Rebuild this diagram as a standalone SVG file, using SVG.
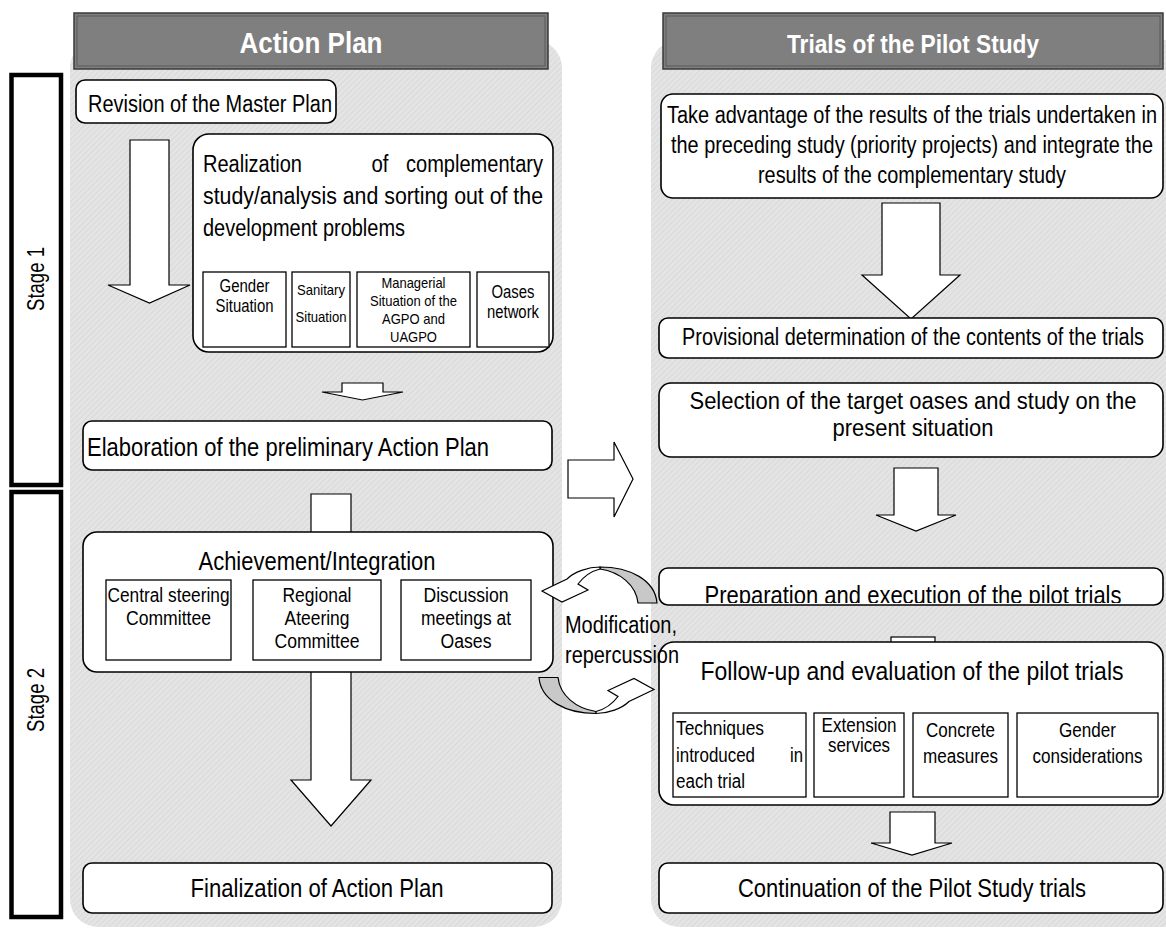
<svg xmlns="http://www.w3.org/2000/svg" width="1166" height="931" viewBox="0 0 1166 931">
<style>
text{font-family:"Liberation Sans",Arial,sans-serif;fill:#000}
.hd{font-weight:bold;fill:#fff}
.box{fill:#fff;stroke:#000;stroke-width:1.6}
.sub{fill:#fff;stroke:#000;stroke-width:1.3}
.arr{fill:#fff;stroke:#000;stroke-width:1.2;stroke-linejoin:miter}
.stage{fill:#fff;stroke:#000;stroke-width:4.5}
.t20{font-size:23px}.t22{font-size:25px}.t23{font-size:26px}.t18{font-size:20px}.t17{font-size:19.5px}.t15{font-size:17.5px}.t13{font-size:15px}
.m{text-anchor:middle}.e{text-anchor:end}
</style>
<defs>
<pattern id="hatch" width="4" height="4" patternUnits="userSpaceOnUse" patternTransform="rotate(45)">
<rect width="4" height="4" fill="#e4e4e4"/><rect width="1" height="4" fill="#d9d9d9"/>
</pattern>
<clipPath id="cpPrep"><rect x="659" y="568" width="504" height="35"/></clipPath>
<clipPath id="cpMan"><rect x="357" y="272" width="113" height="74"/></clipPath>
</defs>
<rect width="1166" height="931" fill="#fff"/>
<g id="panels">
<rect x="70" y="40" width="492" height="887" rx="28" fill="url(#hatch)"/>
<rect x="651" y="40" width="540" height="887" rx="28" fill="url(#hatch)"/>
</g>
<g id="stage1"><rect class="stage" x="11.5" y="75" width="49.5" height="410"/><text font-size="23" class="m" transform="translate(44,279) rotate(-90)" textLength="64" lengthAdjust="spacingAndGlyphs">Stage 1</text></g>
<g id="stage2"><rect class="stage" x="11.5" y="492" width="49.5" height="425"/><text font-size="23" class="m" transform="translate(44,700) rotate(-90)" textLength="64" lengthAdjust="spacingAndGlyphs">Stage 2</text></g>
<g id="header-action-plan">
<rect x="74" y="13" width="474" height="56" fill="#7f7f7f" stroke="#3a3a3a" stroke-width="1.5"/>
<rect x="77" y="16" width="468" height="50" fill="none" stroke="#5a5a5a" stroke-width="1"/>
<text class="hd m" x="311" y="53" font-size="30" textLength="143" lengthAdjust="spacingAndGlyphs">Action Plan</text>
</g>
<g id="header-trials">
<rect x="663" y="13" width="500" height="56" fill="#7f7f7f" stroke="#3a3a3a" stroke-width="1.5"/>
<rect x="666" y="16" width="494" height="50" fill="none" stroke="#5a5a5a" stroke-width="1"/>
<text class="hd m" x="913" y="53" font-size="26" textLength="252" lengthAdjust="spacingAndGlyphs">Trials of the Pilot Study</text>
</g>
<g id="connectors">
<polygon class="arr" points="130,140 169,140 169,285 190,285 149.5,303 108,285 130,285"/>
<polygon class="arr" points="342,383 383,383 383,392 403,392 362.5,400 322,392 342,392"/>
<polygon class="arr" points="311,494 351,494 351,780 371,780 331,826 291,780 311,780"/>
<polygon class="arr" points="568,460 614,460 614,442 633,479 614,517 614,498 568,498"/>
<polygon class="arr" points="882,203 940,203 940,275 960,275 911,319 862,275 882,275"/>
<polygon class="arr" points="894,468 938,468 938,515 956,515 916,531 876,515 894,515"/>
<rect class="arr" x="891" y="637" width="44" height="30"/>
<polygon class="arr" points="890,812 935,812 935,843 952,843 912,855 871,843 890,843"/>
</g>
<g id="revision"><rect class="box" x="76" y="80" width="260" height="43" rx="9"/><text class="t20" x="88" y="112" textLength="244" lengthAdjust="spacingAndGlyphs">Revision of the Master Plan</text></g>
<g id="realization">
<rect class="box" x="193" y="134" width="360" height="218" rx="16"/>
<text class="t20" x="203" y="172" textLength="99" lengthAdjust="spacingAndGlyphs">Realization</text><text class="t20 m" x="380" y="172" textLength="17" lengthAdjust="spacingAndGlyphs">of</text><text class="t20 e" x="543" y="172" textLength="137" lengthAdjust="spacingAndGlyphs">complementary</text>
<text class="t20" x="203" y="204" textLength="340" lengthAdjust="spacingAndGlyphs">study/analysis and sorting out of the</text>
<text class="t20" x="203" y="236" textLength="202" lengthAdjust="spacingAndGlyphs">development problems</text>
<g id="gender-situation"><rect class="sub" x="203" y="272" width="83" height="75"/><text class="t15 m" x="244.5" y="292" textLength="50" lengthAdjust="spacingAndGlyphs">Gender</text><text class="t15 m" x="244.5" y="312" textLength="58" lengthAdjust="spacingAndGlyphs">Situation</text></g>
<g id="sanitary-situation"><rect class="sub" x="292" y="272" width="58" height="75"/><text class="t13 m" x="321" y="295" textLength="48" lengthAdjust="spacingAndGlyphs">Sanitary</text><text class="t13 m" x="321" y="322" textLength="51" lengthAdjust="spacingAndGlyphs">Situation</text></g>
<g id="managerial-situation"><rect class="sub" x="357" y="272" width="113" height="75"/><g clip-path="url(#cpMan)"><text class="t13 m" x="413.5" y="288" textLength="64" lengthAdjust="spacingAndGlyphs">Managerial</text><text class="t13 m" x="413.5" y="306" textLength="87" lengthAdjust="spacingAndGlyphs">Situation of the</text><text class="t13 m" x="413.5" y="324" textLength="63" lengthAdjust="spacingAndGlyphs">AGPO and</text><text class="t13 m" x="413.5" y="342" textLength="47" lengthAdjust="spacingAndGlyphs">UAGPO</text></g></g>
<g id="oases-network"><rect class="sub" x="477" y="272" width="72" height="75"/><text class="t15 m" x="513" y="298" textLength="43" lengthAdjust="spacingAndGlyphs">Oases</text><text class="t15 m" x="513" y="318" textLength="52" lengthAdjust="spacingAndGlyphs">network</text></g>
</g>
<g id="elaboration"><rect class="box" x="83" y="421" width="469" height="49" rx="9"/><text class="t22" x="87" y="456" textLength="402" lengthAdjust="spacingAndGlyphs">Elaboration of the preliminary Action Plan</text></g>
<g id="achievement">
<rect class="box" x="83" y="532" width="470" height="140" rx="14"/>
<text class="t22 m" x="317" y="570" textLength="237" lengthAdjust="spacingAndGlyphs">Achievement/Integration</text>
<g id="central-steering"><rect class="sub" x="106" y="580" width="125" height="80"/><text class="t18 m" x="168.5" y="602" textLength="122" lengthAdjust="spacingAndGlyphs">Central steering</text><text class="t18 m" x="168.5" y="625" textLength="85" lengthAdjust="spacingAndGlyphs">Committee</text></g>
<g id="regional-ateering"><rect class="sub" x="253" y="580" width="128" height="80"/><text class="t18 m" x="317" y="602" textLength="69" lengthAdjust="spacingAndGlyphs">Regional</text><text class="t18 m" x="317" y="625" textLength="65" lengthAdjust="spacingAndGlyphs">Ateering</text><text class="t18 m" x="317" y="648" textLength="85" lengthAdjust="spacingAndGlyphs">Committee</text></g>
<g id="discussion-meetings"><rect class="sub" x="401" y="580" width="130" height="80"/><text class="t18 m" x="466" y="602" textLength="85" lengthAdjust="spacingAndGlyphs">Discussion</text><text class="t18 m" x="466" y="625" textLength="90" lengthAdjust="spacingAndGlyphs">meetings at</text><text class="t18 m" x="466" y="648" textLength="51" lengthAdjust="spacingAndGlyphs">Oases</text></g>
</g>
<g id="finalization"><rect class="box" x="83" y="863" width="469" height="50" rx="9"/><text class="t22 m" x="317" y="897" textLength="253" lengthAdjust="spacingAndGlyphs">Finalization of Action Plan</text></g>
<g id="take-advantage"><rect class="box" x="661" y="94" width="502" height="104" rx="12"/>
<text class="t20 m" x="912" y="123" textLength="490" lengthAdjust="spacingAndGlyphs">Take advantage of the results of the trials undertaken in</text>
<text class="t20 m" x="912" y="153" textLength="482" lengthAdjust="spacingAndGlyphs">the preceding study (priority projects) and integrate the</text>
<text class="t20 m" x="912" y="183" textLength="308" lengthAdjust="spacingAndGlyphs">results of the complementary study</text></g>
<g id="provisional"><rect class="box" x="659" y="318" width="504" height="40" rx="9"/><text class="t20 m" x="913" y="345" textLength="462" lengthAdjust="spacingAndGlyphs">Provisional determination of the contents of the trials</text></g>
<g id="selection"><rect class="box" x="659" y="383" width="504" height="74" rx="12"/><text class="t20 m" x="913" y="409" textLength="447" lengthAdjust="spacingAndGlyphs">Selection of the target oases and study on the</text><text class="t20 m" x="913" y="436" textLength="161" lengthAdjust="spacingAndGlyphs">present situation</text></g>
<g id="preparation"><rect class="box" x="659" y="568" width="504" height="37" rx="9"/><g clip-path="url(#cpPrep)"><text class="t22 m" x="913" y="604" textLength="417" lengthAdjust="spacingAndGlyphs">Preparation and execution of the pilot trials</text></g></g>
<g id="follow-up">
<rect class="box" x="659" y="642" width="504" height="163" rx="15"/>
<text class="t23 m" x="912" y="680" textLength="423" lengthAdjust="spacingAndGlyphs">Follow-up and evaluation of the pilot trials</text>
<g id="techniques"><rect class="sub" x="673" y="713" width="133" height="84"/><text class="t17" x="676" y="735" textLength="88" lengthAdjust="spacingAndGlyphs">Techniques</text><text class="t17" x="676" y="762" textLength="79" lengthAdjust="spacingAndGlyphs">introduced</text><text class="t17 e" x="803" y="762" textLength="13" lengthAdjust="spacingAndGlyphs">in</text><text class="t17" x="676" y="788" textLength="69" lengthAdjust="spacingAndGlyphs">each trial</text></g>
<g id="extension"><rect class="sub" x="814" y="713" width="90" height="84"/><text class="t17 m" x="859" y="732" textLength="75" lengthAdjust="spacingAndGlyphs">Extension</text><text class="t17 m" x="859" y="752" textLength="62" lengthAdjust="spacingAndGlyphs">services</text></g>
<g id="concrete"><rect class="sub" x="913" y="713" width="95" height="84"/><text class="t17 m" x="960.5" y="737" textLength="69" lengthAdjust="spacingAndGlyphs">Concrete</text><text class="t17 m" x="960.5" y="763" textLength="75" lengthAdjust="spacingAndGlyphs">measures</text></g>
<g id="gender-considerations"><rect class="sub" x="1017" y="713" width="141" height="84"/><text class="t17 m" x="1087.5" y="737" textLength="57" lengthAdjust="spacingAndGlyphs">Gender</text><text class="t17 m" x="1087.5" y="763" textLength="110" lengthAdjust="spacingAndGlyphs">considerations</text></g>
</g>
<g id="continuation"><rect class="box" x="659" y="863" width="504" height="50" rx="9"/><text class="t22 m" x="912" y="897" textLength="348" lengthAdjust="spacingAndGlyphs">Continuation of the Pilot Study trials</text></g>
<g id="feedback-arrows">
<g id="curved-top">
<path d="M600 567 C630 567 655 580 657 603 L638 603 C636 585 620 572 600 569 Z" fill="#c8c8c8" stroke="#000" stroke-width="1.2"/>
<path d="M600 567 C588 567 574 572 567 579 L542 591 L562 602 L588 590 L578 584 C584 576 592 571 600 569 Z" fill="#fff" stroke="#000" stroke-width="1.2"/>
</g>
<g id="curved-bottom" transform="translate(1196,1280.5) scale(-1,-1)">
<path d="M600 567 C630 567 655 580 657 603 L638 603 C636 585 620 572 600 569 Z" fill="#c8c8c8" stroke="#000" stroke-width="1.2"/>
<path d="M600 567 C588 567 574 572 567 579 L542 591 L562 602 L588 590 L578 584 C584 576 592 571 600 569 Z" fill="#fff" stroke="#000" stroke-width="1.2"/>
</g>
<text class="t20" x="565" y="633" textLength="112" lengthAdjust="spacingAndGlyphs">Modification,</text>
<text class="t20" x="565" y="663" textLength="114" lengthAdjust="spacingAndGlyphs">repercussion</text>
</g>
</svg>
